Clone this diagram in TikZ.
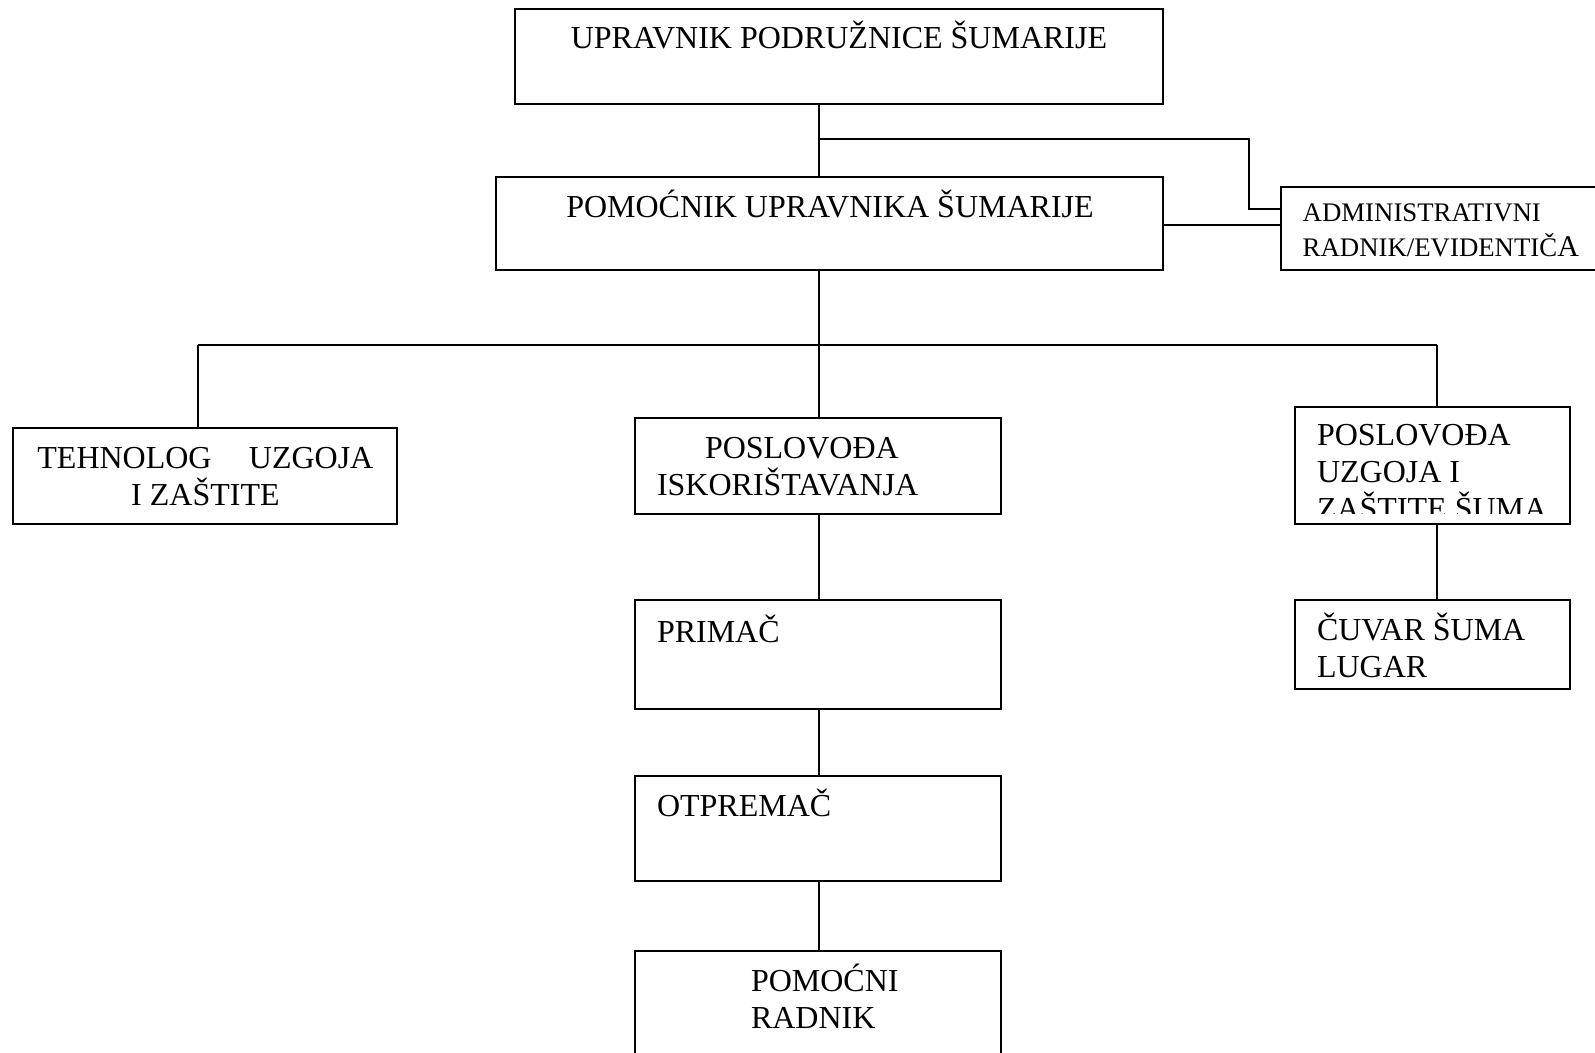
\documentclass[tikz,border=0pt]{standalone}
\usepackage{fontspec}
\setmainfont{Liberation Serif}
\usepackage{tikz}
\usetikzlibrary{calc}

\begin{document}
\begin{tikzpicture}[x=0.5pt, y=-0.5pt, line width=1pt,
    box/.style={draw, rectangle, inner sep=0pt},
    txt/.style={inner sep=0pt, font=\fontsize{16}{18.5}\selectfont, align=left},
    small/.style={inner sep=0pt, font=\fontsize{13.4}{17.8}\selectfont, align=left}]

        % Page
        \useasboundingbox (0,0) rectangle (1595,1053);

        % Boxes
        \node[box, minimum width=324pt, minimum height=47.5pt] (upr) at (839,56.5) {};
        \node[box, minimum width=333.5pt, minimum height=46.3pt] (pom) at (829.5,223.3) {};
        \node[box, minimum width=164.5pt, minimum height=41.5pt] (adm) at (1445.5,228.5) {};
        \node[box, minimum width=191.75pt, minimum height=47.85pt] (tech) at (205,476) {};
        \node[box, minimum width=183.1pt, minimum height=47.85pt] (pis) at (817.8,465.9) {};
        \node[box, minimum width=137.3pt, minimum height=58.5pt] (puz) at (1432.2,465.4) {};
        \node[box, minimum width=183.1pt, minimum height=54.4pt] (pri) at (817.8,654.6) {};
        \node[box, minimum width=183.1pt, minimum height=52.4pt] (otp) at (817.8,828.5) {};
        \node[box, minimum width=183.1pt, minimum height=59.5pt] (prad) at (817.8,1010.5) {};
        \node[box, minimum width=137.3pt, minimum height=44.2pt] (cuv) at (1432.2,644.4) {};

        % Coordinates
        \coordinate (trunk) at (819,0);
        \coordinate (br) at (819,138.6);
        \coordinate (elbow) at (1249,138.6);
        \coordinate (fork) at (819,344.8);
        \coordinate (forkL) at (198.4,344.8);
        \coordinate (forkR) at (1437.3,344.8);

        % Upper connectors
        \draw (upr.south -| trunk) -- (pom.north -| trunk);
        \draw (br) -- (elbow) |- ([yshift=9.6pt]adm.west);
        \draw ([yshift=-1pt]pom.east) -- ([yshift=-1pt]pom.east -| adm.west);

        % Lower connectors
        \draw (pom.south -| fork) -- (fork);
        \draw (forkL) -- (forkR);
        \draw (forkL) -- (forkL |- tech.north);
        \draw (fork) -- (fork |- pis.north);
        \draw (forkR) -- (forkR |- puz.north);
        \draw (pis.south -| fork) -- (pri.north -| fork);
        \draw (pri.south -| fork) -- (otp.north -| fork);
        \draw (otp.south -| fork) -- (prad.north -| fork);
        \draw (puz.south -| forkR) -- (cuv.north -| forkR);

        % Labels (base = last line)
        \node[txt, anchor=base] (upr-t) at (839,48.3) {UPRAVNIK PODRUŽNICE ŠUMARIJE};
        \node[txt, anchor=base] (pom-t) at (830,218) {POMOĆNIK UPRAVNIKA ŠUMARIJE};
        \node[small, anchor=base west] (adm-t) at (1301.7,256.7)
            {ADMINISTRATIVNI\\RADNIK/EVIDENTIČ{\fontsize{15}{17.8}\selectfont A}};
        \node[txt, align=center, anchor=base] (tech-t) at (205.4,505.3)
            {\hbox to 168pt{TEHNOLOG\hfill UZGOJA}\\I ZAŠTITE};
        \node[txt, anchor=base west] (pis-t) at (656,495.2)
            {\hspace*{24pt}POSLOVOĐA\\ISKORIŠTAVANJA};
        \begin{scope}
            \clip (puz.north west) rectangle (1569.5,513.3);
            \node[txt, anchor=base west] (puz-t) at (1316,519.7)
                {POSLOVOĐA\\UZGOJA I\\ZAŠTITE ŠUMA};
        \end{scope}
        \node[txt, anchor=base west] (pri-t) at (656,642.3) {PRIMAČ};
        \node[txt, anchor=base west] (otp-t) at (656,816.2) {OTPREMAČ};
        \node[txt, anchor=base west] (prad-t) at (750,1028.5) {POMOĆNI\\RADNIK};
        \node[txt, anchor=base west] (cuv-t) at (1316,677.5) {ČUVAR ŠUMA\\LUGAR};

\end{tikzpicture}
\end{document}
